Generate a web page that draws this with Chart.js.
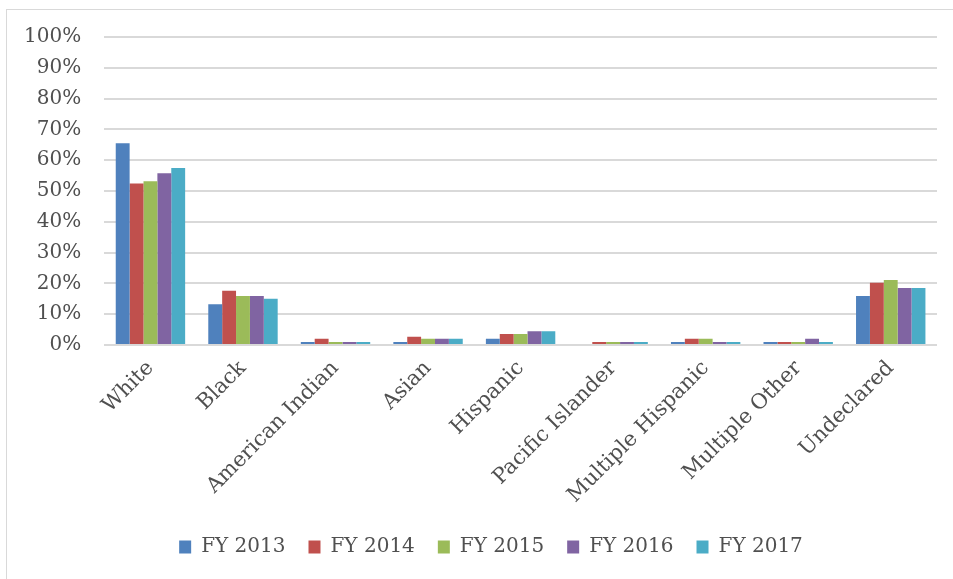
<!DOCTYPE html>
<html>
<head>
<meta charset="utf-8">
<script src="https://cdn.jsdelivr.net/npm/chart.js@4/dist/chart.umd.min.js"></script>
<style>
  html, body { margin: 0; padding: 0; background: #fff; overflow: hidden; }
  #wrap { position: relative; width: 953px; height: 579px; }
  #frame { position: absolute; left: 6px; top: 9px; width: 980px; height: 620px; border: 1px solid #d9d9d9; box-sizing: border-box; }
  #c { position: absolute; left: 0; top: 0; }
</style>
</head>
<body>
<div id="wrap">
  <div id="frame"></div>
  <canvas id="c" width="953" height="579"></canvas>
</div>
<script>
const categories = ["White", "Black", "American Indian", "Asian", "Hispanic", "Pacific Islander", "Multiple Hispanic", "Multiple Other", "Undeclared"];
const seriesNames = ["FY 2013", "FY 2014", "FY 2015", "FY 2016", "FY 2017"];
const fy2013 = [65.5, 13.2, 1, 1, 2, 0, 1, 1, 15.9];
const fy2014 = [52.4, 17.6, 2, 2.7, 3.6, 1, 2, 1, 20.2];
const fy2015 = [53.2, 15.9, 1, 2, 3.6, 1, 2, 1, 21.1];
const fy2016 = [55.8, 15.9, 1, 2, 4.5, 1, 1, 2, 18.5];
const fy2017 = [57.5, 15.0, 1, 2, 4.5, 1, 1, 1, 18.5];
const yTicks = [0, 10, 20, 30, 40, 50, 60, 70, 80, 90, 100];

const colors = ["#4F81BD", "#C0504D", "#9BBB59", "#8064A2", "#4BACC6"];
const seriesValues = [fy2013, fy2014, fy2015, fy2016, fy2017];

const FONT = "'DejaVu Serif', serif";
const TXT = "#505050";

const legendShift = {
  id: 'legendShift',
  afterLayout(chart) {
    if (chart.legend) { chart.legend.left += 22; chart.legend.right += 22; }
  }
};

new Chart(document.getElementById('c'), {
  type: 'bar',
  data: {
    labels: categories,
    datasets: seriesNames.map((n, i) => ({
      label: n,
      data: seriesValues[i],
      backgroundColor: colors[i],
      borderWidth: 0,
      categoryPercentage: 0.75,
      barPercentage: 1.0
    }))
  },
  plugins: [legendShift],
  options: {
    responsive: false,
    animation: false,
    devicePixelRatio: 1,
    layout: { padding: { left: 1, right: 16, top: 37, bottom: 12 } },
    plugins: {
      tooltip: { enabled: false },
      legend: {
        position: 'bottom',
        labels: {
          font: { family: FONT, size: 20 },
          color: TXT,
          boxWidth: 12,
          boxHeight: 13,
          padding: 23
        }
      }
    },
    scales: {
      x: {
        grid: { display: false },
        border: { display: false },
        afterFit: (s) => { s.paddingLeft = 0; s.paddingRight = 0; s.height = 169; },
        ticks: {
          font: { family: FONT, size: 21 },
          color: TXT,
          minRotation: 45,
          maxRotation: 45,
          autoSkip: false,
          padding: 3
        }
      },
      y: {
        min: 0,
        max: 100,
        afterBuildTicks: (axis) => { axis.ticks = yTicks.map(v => ({ value: v })); },
        grid: { color: '#d9d9d9', lineWidth: 2, drawTicks: false },
        border: { display: false },
        ticks: {
          font: { family: FONT, size: 20 },
          color: TXT,
          padding: 23,
          callback: (v) => v + '%'
        }
      }
    }
  }
});
</script>
</body>
</html>
